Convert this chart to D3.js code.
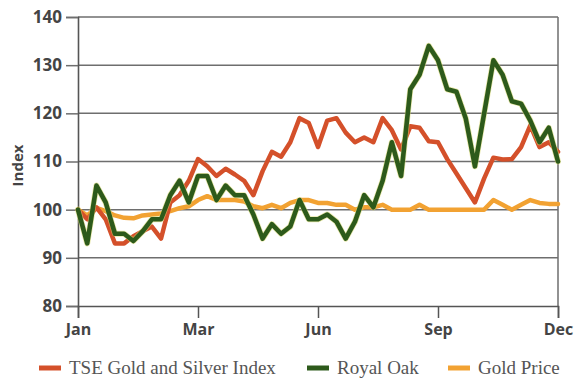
<!DOCTYPE html>
<html>
<head>
<meta charset="utf-8">
<script src="https://cdn.jsdelivr.net/npm/d3@7"></script>
<style>
  html, body { margin: 0; padding: 0; background: #ffffff; }
  svg { display: block; }
</style>
</head>
<body>
<svg id="chart" width="575" height="378"></svg>
<script>
// ---- data ----
const weeks = d3.range(0, 53);
const tseIndex = [100, 98, 100.5, 98, 93, 93, 94.5, 95.5, 96.5, 94,
  101.5, 103, 106, 110.5, 109, 107, 108.5, 107.3, 106, 103,
  108, 112, 111, 114, 119, 118, 113, 118.5, 119, 116,
  114, 115, 114, 119, 116.5, 112.5, 117.3, 117, 114.2, 114,
  110.5, 107.5, 104.5, 101.5, 106.5, 110.8, 110.4, 110.5, 113, 117.5,
  113, 114, 112];
const royalOak = [100, 93, 105, 101.5, 95, 95, 93.5, 95.5, 98, 98,
  103, 106, 101.5, 107, 107, 102, 105, 103, 103, 99,
  94, 97, 95, 96.5, 102, 98, 98, 99, 97.5, 94,
  97.5, 103, 100.5, 106, 114, 107, 125, 128, 134, 131,
  125, 124.5, 119, 109, 120, 131, 128, 122.5, 122, 118.5,
  114, 117, 110];
const goldPrice = [100, 98.8, 100.4, 99.7, 98.8, 98.3, 98.2, 98.8, 99, 99.2,
  99.7, 100.3, 100.7, 102, 102.8, 102, 102, 102, 101.7, 100.7,
  100.3, 101, 100.3, 101.4, 102, 102, 101.4, 101.4, 101, 101,
  100, 100.5, 100.5, 101, 100, 100, 100, 101, 100, 100,
  100, 100, 100, 100, 100, 102, 101, 100, 101, 102,
  101.4, 101.2, 101.2];
const yTicks = [80, 90, 100, 110, 120, 130, 140];
const xTickWeeks = [0, 13, 26, 39, 52];
const xTickLabels = ["Jan", "Mar", "Jun", "Sep", "Dec"];
const seriesNames = ["TSE Gold and Silver Index", "Royal Oak", "Gold Price"];

// ---- layout ----
const svg = d3.select("#chart");
const L = 78, R = 558, T = 17, B = 306;
const x = d3.scaleLinear().domain([0, 52]).range([L, R]);
const y = d3.scaleLinear().domain([80, 140]).range([B, T]);

const colors = { tse: "#d4502a", oak: "#2d5a1b", gold: "#f2a232" };
const gridColor = "#6e6e6e";

// gridlines
svg.append("g").selectAll("line").data(yTicks.filter(d => d !== 80)).join("line")
  .attr("x1", L).attr("x2", R)
  .attr("y1", d => y(d)).attr("y2", d => y(d))
  .attr("stroke", gridColor).attr("stroke-width", 1.5);

// right border
svg.append("line").attr("x1", R).attr("x2", R).attr("y1", y(140)).attr("y2", y(80))
  .attr("stroke", gridColor).attr("stroke-width", 1.5);

// y axis
const yAxis = svg.append("g").attr("transform", `translate(${L},0)`)
  .call(d3.axisLeft(y).tickValues(yTicks).tickSize(12).tickPadding(4).tickFormat(d3.format("d")));
yAxis.select(".domain").attr("stroke", "#555").attr("stroke-width", 1.6);
yAxis.selectAll(".tick line").attr("stroke", gridColor).attr("stroke-width", 1.5);
yAxis.selectAll(".tick text")
  .attr("font-family", "'Open Sans', sans-serif").attr("font-weight", 700)
  .attr("font-size", 17).attr("fill", "#444");

// x axis
const xAxis = svg.append("g").attr("transform", `translate(0,${B})`)
  .call(d3.axisBottom(x).tickValues(xTickWeeks).tickSize(12).tickPadding(6)
    .tickFormat((d, i) => xTickLabels[i]));
xAxis.select(".domain").attr("stroke", "#555").attr("stroke-width", 1.6);
xAxis.selectAll(".tick line").attr("stroke", "#555").attr("stroke-width", 1.5);
xAxis.selectAll(".tick text")
  .attr("font-family", "'Open Sans', sans-serif").attr("font-weight", 700)
  .attr("font-size", 16).attr("fill", "#444");

// y axis title
svg.append("text")
  .attr("transform", `translate(23,${(T + B) / 2 + 4}) rotate(-90)`)
  .attr("text-anchor", "middle")
  .attr("font-family", "'Open Sans', sans-serif").attr("font-weight", 700)
  .attr("font-size", 15).attr("fill", "#444")
  .text("Index");

// lines
const line = d3.line().x((d, i) => x(weeks[i])).y(d => y(d)).curve(d3.curveLinear);
const lineLayer = svg.append("g").attr("fill", "none")
  .attr("stroke-linejoin", "round").attr("stroke-linecap", "round");
lineLayer.append("path").datum(goldPrice).attr("d", line)
  .attr("stroke", colors.gold).attr("stroke-width", 4.5);
lineLayer.append("path").datum(tseIndex).attr("d", line)
  .attr("stroke", colors.tse).attr("stroke-width", 4.5);
lineLayer.append("path").datum(royalOak).attr("d", line)
  .attr("stroke", "#d8d870").attr("stroke-width", 6).attr("opacity", 0.6);
lineLayer.append("path").datum(royalOak).attr("d", line)
  .attr("stroke", colors.oak).attr("stroke-width", 4.6);

// legend
const legendItems = [
  { name: seriesNames[0], color: colors.tse, x0: 39 },
  { name: seriesNames[1], color: colors.oak, x0: 307 },
  { name: seriesNames[2], color: colors.gold, x0: 448 }
];
const lg = svg.append("g");
const ly = 368;
legendItems.forEach(it => {
  lg.append("line").attr("x1", it.x0).attr("x2", it.x0 + 22)
    .attr("y1", ly).attr("y2", ly)
    .attr("stroke", it.color).attr("stroke-width", 5);
  lg.append("text").attr("x", it.x0 + 30).attr("y", ly + 6)
    .attr("font-family", "'Liberation Serif', serif").attr("font-size", 19)
    .attr("fill", "#555").text(it.name);
});
</script>
</body>
</html>
